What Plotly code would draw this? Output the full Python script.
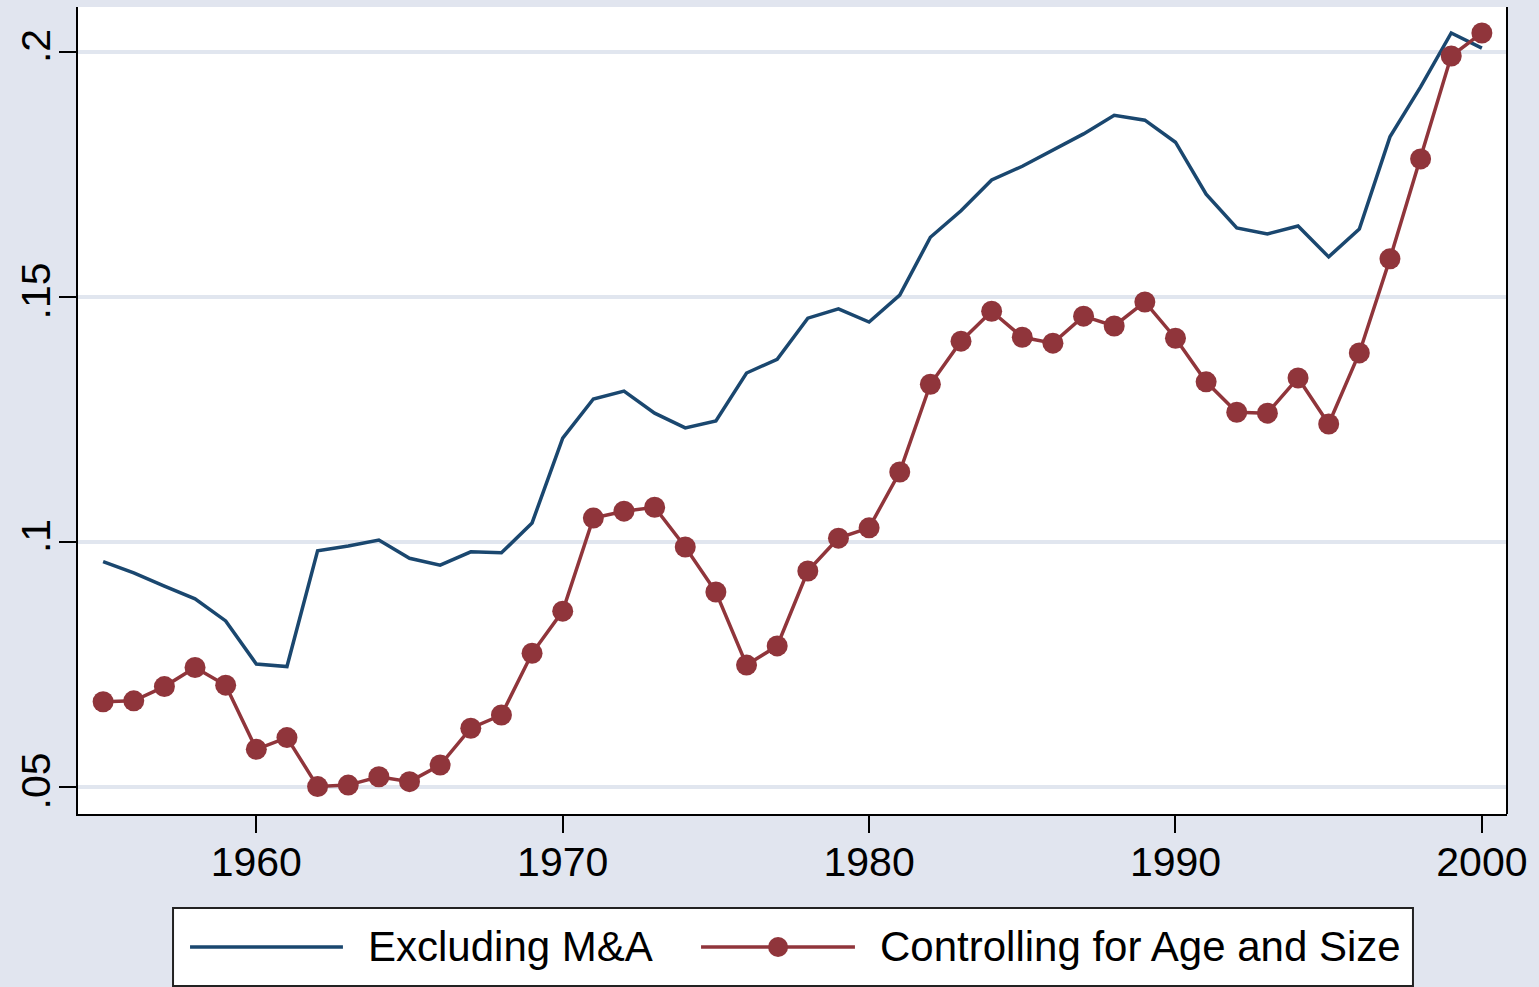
import plotly.graph_objects as go

# -----------------------------------------------------------------------------
# Data
# -----------------------------------------------------------------------------

years = list(range(1955, 2001))

excluding_ma = [
    0.0960, 0.0937, 0.0910, 0.0884, 0.0839, 0.0751, 0.0746, 0.0982, 0.0992, 0.1004,
    0.0967, 0.0953, 0.0980, 0.0978, 0.1039, 0.1212, 0.1292, 0.1308, 0.1263, 0.1233,
    0.1247, 0.1345, 0.1373, 0.1457, 0.1476, 0.1449, 0.1504, 0.1622, 0.1676, 0.1739,
    0.1767, 0.1800, 0.1833, 0.1871, 0.1861, 0.1816, 0.1710, 0.1641, 0.1629, 0.1645,
    0.1582, 0.1639, 0.1827, 0.1929, 0.2039, 0.2008,
]

controlling_age_size = [
    0.0674, 0.0676, 0.0705, 0.0744, 0.0708, 0.0577, 0.0601, 0.0501, 0.0504, 0.0521,
    0.0511, 0.0545, 0.0620, 0.0647, 0.0773, 0.0859, 0.1049, 0.1063, 0.1071, 0.0990,
    0.0898, 0.0749, 0.0788, 0.0941, 0.1008, 0.1029, 0.1143, 0.1322, 0.1410, 0.1471,
    0.1418, 0.1406, 0.1461, 0.1441, 0.1490, 0.1416, 0.1327, 0.1265, 0.1263, 0.1335,
    0.1241, 0.1386, 0.1578, 0.1782, 0.1992, 0.2039,
]

x_ticks = [1960, 1970, 1980, 1990, 2000]
y_ticks = [0.05, 0.10, 0.15, 0.20]
y_tick_labels = [".05", ".1", ".15", ".2"]
series_names = ["Excluding M&A", "Controlling for Age and Size"]

# -----------------------------------------------------------------------------
# Style
# -----------------------------------------------------------------------------

BG = "#E1E5EF"
GRID = "#E1E6EF"
NAVY = "#1A476F"
MAROON = "#90353B"
FONT = "Liberation Sans, Arial, sans-serif"

fig = go.Figure()

fig.add_trace(
    go.Scatter(
        x=years,
        y=excluding_ma,
        mode="lines",
        line=dict(color=NAVY, width=3.5),
        name=series_names[0],
        showlegend=False,
    )
)

fig.add_trace(
    go.Scatter(
        x=years,
        y=controlling_age_size,
        mode="lines+markers",
        line=dict(color=MAROON, width=3.5),
        marker=dict(color=MAROON, size=21),
        name=series_names[1],
        showlegend=False,
    )
)

axis_common = dict(
    showline=True,
    linecolor="black",
    linewidth=2,
    ticks="outside",
    ticklen=17,
    tickwidth=2,
    tickcolor="black",
    tickfont=dict(family=FONT, size=41, color="black"),
    zeroline=False,
    automargin=False,
)

fig.update_xaxes(
    range=[1954.18, 2000.82],
    tickvals=x_ticks,
    showgrid=False,
    ticklabelstandoff=-6,
    **axis_common,
)

fig.update_yaxes(
    range=[0.0445, 0.2092],
    tickvals=y_ticks,
    ticktext=y_tick_labels,
    tickangle=-90,
    showgrid=True,
    gridcolor=GRID,
    gridwidth=4,
    ticklabelstandoff=-7,
    **axis_common,
)

# right border of plot region
shapes = [
    dict(type="line", xref="paper", yref="paper", x0=1, x1=1, y0=0, y1=1,
         line=dict(color="black", width=2)),
]

# hand-drawn legend (Stata style, long keys)
leg_y = -0.1648
shapes += [
    dict(type="rect", xref="paper", yref="paper", x0=0.0665, x1=0.9342,
         y0=-0.2131, y1=-0.1165, fillcolor="white",
         line=dict(color="#222222", width=2), layer="below"),
    dict(type="line", xref="paper", yref="paper", x0=0.0784, x1=0.1854,
         y0=leg_y, y1=leg_y, line=dict(color=NAVY, width=3.5)),
    dict(type="line", xref="paper", yref="paper", x0=0.4360, x1=0.5437,
         y0=leg_y, y1=leg_y, line=dict(color=MAROON, width=3.5)),
    dict(type="circle", xref="paper", yref="paper",
         xsizemode="pixel", ysizemode="pixel",
         xanchor=0.4899, yanchor=leg_y, x0=-10, x1=10, y0=-10, y1=10,
         fillcolor=MAROON, line=dict(color=MAROON, width=0)),
]

annotations = [
    dict(text=series_names[0], xref="paper", yref="paper", x=0.2015, y=leg_y,
         xanchor="left", yanchor="middle", showarrow=False,
         font=dict(family=FONT, size=42, color="black")),
    dict(text=series_names[1], xref="paper", yref="paper", x=0.5598, y=leg_y,
         xanchor="left", yanchor="middle", showarrow=False,
         font=dict(family=FONT, size=42, color="black")),
]

fig.update_layout(
    width=1539,
    height=987,
    autosize=False,
    paper_bgcolor=BG,
    plot_bgcolor="white",
    margin=dict(l=78, r=32, t=7, b=173),
    showlegend=False,
    shapes=shapes,
    annotations=annotations,
)

fig.write_html(
    "out.html",
    config={"displayModeBar": False},
    post_script="document.body.style.margin='0';"
                "document.body.style.overflow='hidden';",
)
